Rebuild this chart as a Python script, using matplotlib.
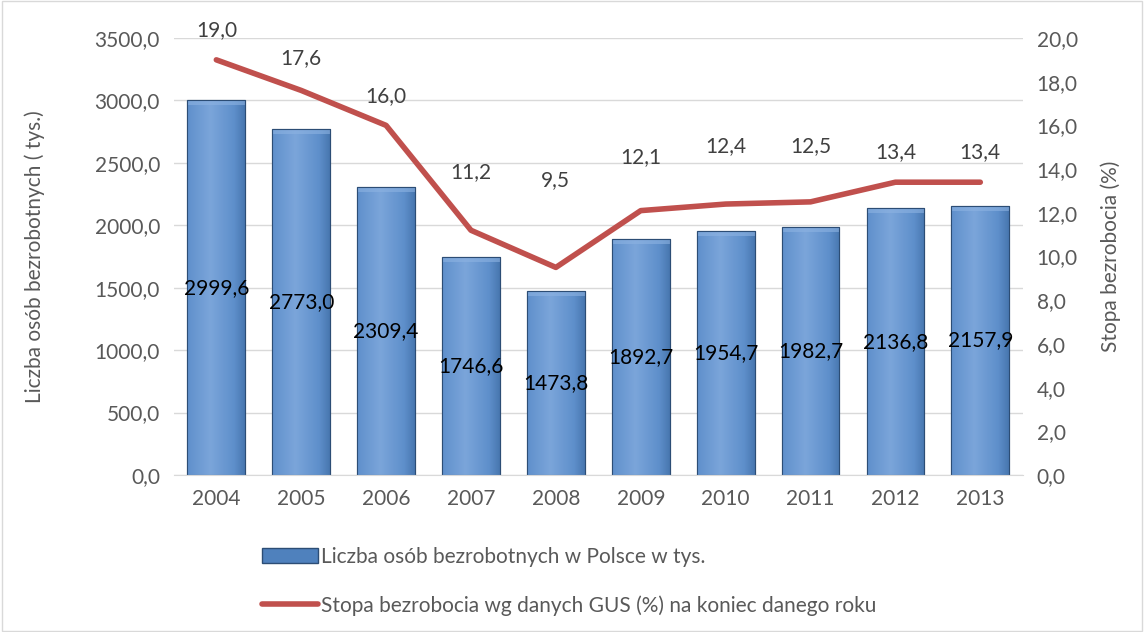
import matplotlib.pyplot as plt
import numpy as np
from matplotlib.patches import Rectangle
from matplotlib.lines import Line2D
from matplotlib.colors import LinearSegmentedColormap

years = ["2004", "2005", "2006", "2007", "2008", "2009", "2010", "2011", "2012", "2013"]
unemployed = [2999.6, 2773.0, 2309.4, 1746.6, 1473.8, 1892.7, 1954.7, 1982.7, 2136.8, 2157.9]
rate = [19.0, 17.6, 16.0, 11.2, 9.5, 12.1, 12.4, 12.5, 13.4, 13.4]

# label placement above line points (pixels), as in the original chart
label_lift = [30, 32, 29, 58, 87, 54, 58, 56, 30, 30]

plt.rcParams['font.family'] = ['Lato', 'DejaVu Sans']
gray = '#595959'
fs = 15

def pl(v):
    return f"{v:.1f}".replace('.', ',')

fig = plt.figure(figsize=(11.44, 6.32), dpi=100)
fig.patches.append(Rectangle((0.002, 0.002), 0.996, 0.996, transform=fig.transFigure,
                             fill=False, edgecolor='#D9D9D9', lw=1))
ax = fig.add_axes([0.152, 0.2484, 0.742, 0.6915])
ax2 = ax.twinx()

x = np.arange(len(years))
bars = ax.bar(x, unemployed, width=0.68, color='#4F81BD', edgecolor='#2C4D75', lw=0.8, zorder=2)

# horizontal shading inside each bar
grad = np.linspace(0, 1, 64)
shade = 1 - np.abs(grad - 0.4) * 1.2
img = np.tile(shade, (2, 1))
cmap = LinearSegmentedColormap.from_list('b', ['#2E5A8E', '#5E8FCB', '#7BA5DA'])
for b in bars:
    x0, w, h = b.get_x(), b.get_width(), b.get_height()
    im = ax.imshow(img, extent=[x0, x0 + w, 0, h], aspect='auto', cmap=cmap,
                   vmin=0, vmax=1, zorder=2.1, origin='lower')
    im.set_clip_path(b)
    ax.add_patch(Rectangle((x0, h - 40), w, 40, facecolor='#8DB3E2', edgecolor='none',
                           alpha=0.6, zorder=2.2))
    ax.add_patch(Rectangle((x0, 0), w, h, fill=False, edgecolor='#2C4D75', lw=0.8, zorder=2.3))
    ax.text(x0 + w / 2, h / 2, pl(h), ha='center', va='center',
            fontsize=fs, color='black', zorder=4)

ticks_l = np.arange(0, 3501, 500)
ax.set_ylim(0, 3500)
ax.set_yticks(ticks_l)
ax.set_yticklabels([pl(v) for v in ticks_l])
ax.set_xlim(-0.5, len(years) - 0.5)
ax.set_xticks(x)
ax.set_xticklabels(years)
ax.grid(axis='y', color='#D9D9D9', lw=1, zorder=0)
ax.set_axisbelow(True)

ax2.plot(x, rate, color='#C0504D', lw=4, solid_capstyle='round', zorder=3)
for xi, r, lift in zip(x, rate, label_lift):
    ax2.annotate(pl(r), (xi, r), xytext=(0, lift), textcoords='offset pixels',
                 ha='center', va='center', fontsize=fs, color='#404040')
ticks_r = np.arange(0, 20.1, 2)
ax2.set_ylim(0, 20)
ax2.set_yticks(ticks_r)
ax2.set_yticklabels([pl(v) for v in ticks_r])

for a in (ax, ax2):
    for s in a.spines.values():
        s.set_visible(False)
    a.tick_params(length=0, labelsize=fs, labelcolor=gray, pad=10)
ax.spines['bottom'].set_visible(True)
ax.spines['bottom'].set_color('#D9D9D9')

ax.set_ylabel("Liczba osób bezrobotnych ( tys.)", fontsize=fs, color=gray)
ax.yaxis.set_label_coords(-0.152, 0.5)
ax2.set_ylabel("Stopa bezrobocia (%)", fontsize=fs, color=gray)
ax2.yaxis.set_label_coords(1.092, 0.5)

handles = [Rectangle((0, 0), 1, 1, facecolor='#4F81BD', edgecolor='#2C4D75'),
           Line2D([0], [0], color='#C0504D', lw=4, solid_capstyle='round')]
labels = ["Liczba osób bezrobotnych w Polsce w tys.",
          "Stopa bezrobocia wg danych GUS (%) na koniec danego roku"]
leg = fig.legend(handles, labels, loc='upper left', bbox_to_anchor=(0.222, 0.148),
                 frameon=False, fontsize=fs, labelspacing=1.35, handlelength=2.65,
                 handletextpad=0.15, borderaxespad=0)
for t in leg.get_texts():
    t.set_color(gray)

fig.savefig('out.png', dpi=100)
